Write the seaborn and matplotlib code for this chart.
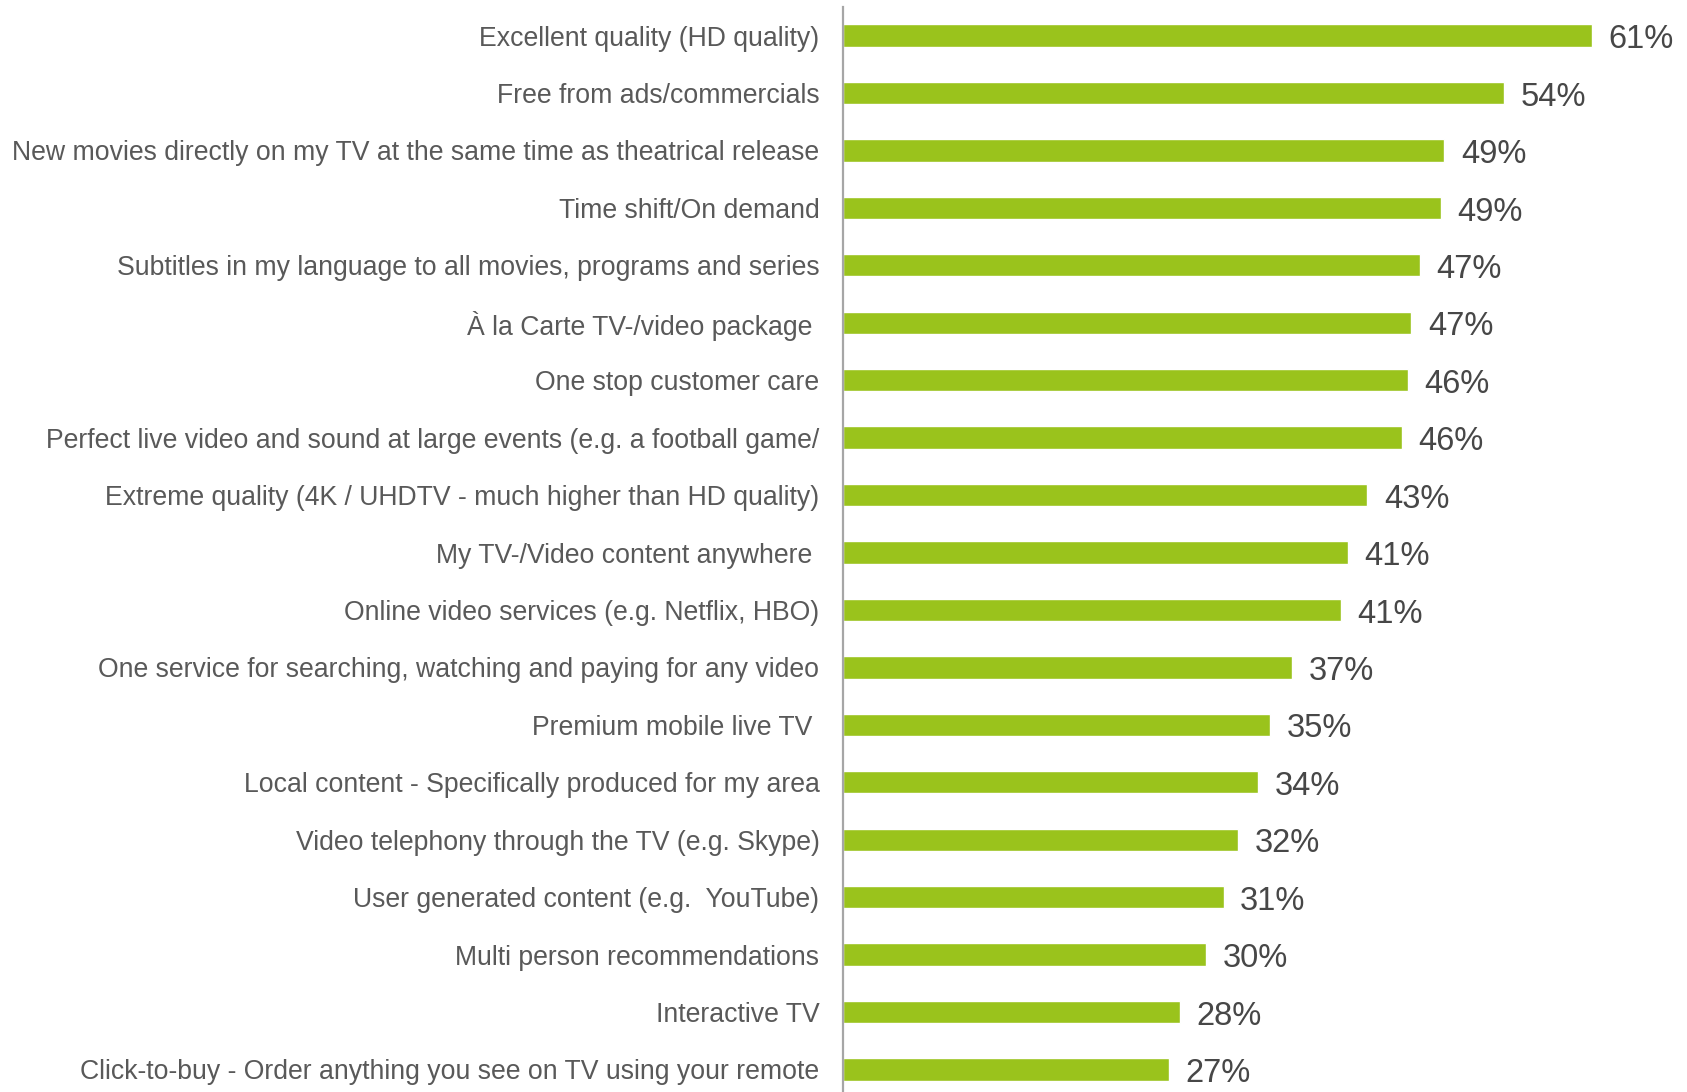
import matplotlib
matplotlib.use("Agg")
import matplotlib.pyplot as plt
import seaborn as sns
import pandas as pd

features = [
    "Excellent quality (HD quality)",
    "Free from ads/commercials",
    "New movies directly on my TV at the same time as theatrical release",
    "Time shift/On demand",
    "Subtitles in my language to all movies, programs and series",
    "À la Carte TV-/video package ",
    "One stop customer care",
    "Perfect live video and sound at large events (e.g. a football game/",
    "Extreme quality (4K / UHDTV - much higher than HD quality)",
    "My TV-/Video content anywhere ",
    "Online video services (e.g. Netflix, HBO)",
    "One service for searching, watching and paying for any video",
    "Premium mobile live TV ",
    "Local content - Specifically produced for my area",
    "Video telephony through the TV (e.g. Skype)",
    "User generated content (e.g.  YouTube)",
    "Multi person recommendations",
    "Interactive TV",
    "Click-to-buy - Order anything you see on TV using your remote",
]
shares = [61.4, 54.2, 49.3, 49.0, 47.3, 46.6, 46.3, 45.8, 43.0, 41.4,
          40.8, 36.8, 35.0, 34.0, 32.4, 31.2, 29.8, 27.6, 26.7]

df = pd.DataFrame({"feature": features, "share": shares})

sns.set_theme(style="white")
plt.rcParams["font.family"] = ["Liberation Sans", "DejaVu Sans"]

fig = plt.figure(figsize=(16.87, 10.92), dpi=100)
ax = fig.add_axes([843 / 1687, -6.2 / 1092, (1687 - 843) / 1687, 1091.4 / 1092])

sns.barplot(data=df, x="share", y="feature", orient="h", color="#9AC31C",
            saturation=1, width=0.39, ax=ax)

ax.set_xlim(0, 69.2)
ax.set_ylim(len(features) - 0.5, -0.5)

labels = [f"{v:.0f}%" for v in shares]
value_texts = ax.bar_label(ax.containers[0], labels=labels, padding=12,
                           fontsize=23.5, color="#474747")
for t in value_texts:
    t.xyann = (12, -3)

ax.set_xlabel("")
ax.set_ylabel("")
ax.set_xticks([])
ax.tick_params(axis="y", length=0, pad=17, labelsize=19.15, labelcolor="#595959")

for side in ["top", "right", "bottom"]:
    ax.spines[side].set_visible(False)
ax.spines["left"].set_color("#A6A6A6")
ax.spines["left"].set_linewidth(1.6)

fig.savefig("out.png", dpi=100)
